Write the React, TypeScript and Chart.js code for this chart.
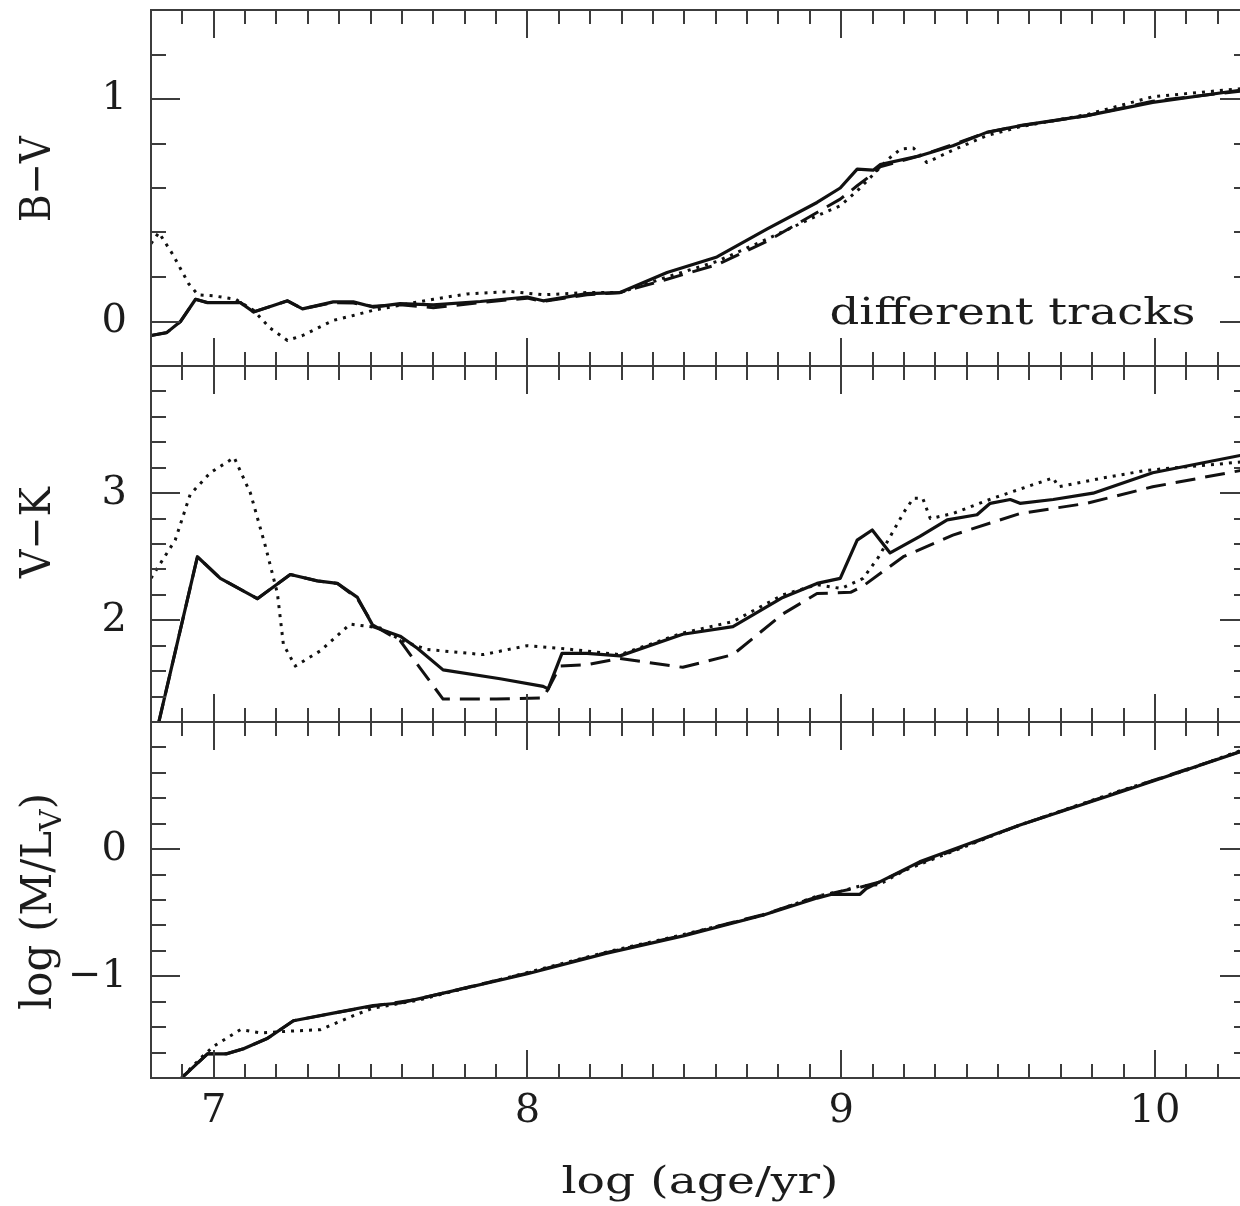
import React, { useEffect, useRef } from 'react';
import { Chart, registerables } from 'chart.js';

Chart.register(...registerables);

// ---------- axes ----------
const X_MIN = 6.8;
const X_MAX = 10.3;
const xTickValues = [7, 8, 9, 10];
const xTickLabels = ['7', '8', '9', '10'];

const BV_MIN = -0.2;
const BV_MAX = 1.4;
const bvTickValues = [0, 1];
const bvTickLabels = ['0', '1'];

const VK_MIN = 1.2;
const VK_MAX = 4.0;
const vkTickValues = [2, 3];
const vkTickLabels = ['2', '3'];

const ML_MIN = -1.8;
const ML_MAX = 1.0;
const mlTickValues = [-1, 0];
const mlTickLabels = ['\u22121', '0'];

const xTitle = 'log (age/yr)';
const bvTitle = 'B\u2212V';
const vkTitle = 'V\u2212K';
const mlTitleMain = 'log (M/L';
const mlTitleSub = 'V';
const mlTitleEnd = ')';
const annotation = 'different tracks';

// ---------- B-V panel ----------
const bvSolidX = [6.80, 6.85, 6.894, 6.942, 6.98, 7.085, 7.127, 7.19, 7.235, 7.283, 7.381, 7.445, 7.508, 7.594, 7.70, 7.85, 7.999, 8.05, 8.19, 8.295, 8.445, 8.604, 8.763, 8.923, 8.997, 9.051, 9.102, 9.124, 9.251, 9.356, 9.464, 9.57, 9.783, 9.993, 10.3];
const bvSolidY = [-0.063, -0.05, 0.0, 0.10, 0.085, 0.085, 0.043, 0.072, 0.093, 0.057, 0.088, 0.088, 0.065, 0.08, 0.075, 0.09, 0.11, 0.093, 0.125, 0.13, 0.22, 0.29, 0.415, 0.535, 0.60, 0.685, 0.68, 0.705, 0.745, 0.79, 0.85, 0.88, 0.925, 0.985, 1.045];

const bvDashX = [6.80, 6.85, 6.894, 6.942, 6.98, 7.085, 7.127, 7.19, 7.235, 7.283, 7.381, 7.445, 7.508, 7.594, 7.70, 7.85, 7.999, 8.05, 8.19, 8.295, 8.445, 8.604, 8.763, 8.923, 8.997, 9.051, 9.102, 9.124, 9.251, 9.356, 9.464, 9.57, 9.783, 9.993, 10.3];
const bvDashY = [-0.063, -0.05, 0.0, 0.10, 0.085, 0.085, 0.043, 0.072, 0.093, 0.057, 0.085, 0.083, 0.068, 0.075, 0.062, 0.085, 0.105, 0.09, 0.12, 0.13, 0.19, 0.255, 0.36, 0.49, 0.55, 0.61, 0.665, 0.695, 0.745, 0.795, 0.85, 0.88, 0.925, 0.99, 1.04];

const bvDotX = [6.80, 6.825, 6.87, 6.92, 6.95, 7.0, 7.07, 7.127, 7.18, 7.235, 7.283, 7.381, 7.445, 7.508, 7.60, 7.70, 7.808, 7.945, 8.05, 8.19, 8.295, 8.445, 8.604, 8.763, 8.923, 8.997, 9.051, 9.102, 9.15, 9.19, 9.23, 9.273, 9.356, 9.464, 9.57, 9.783, 9.993, 10.3];
const bvDotY = [0.35, 0.40, 0.30, 0.17, 0.12, 0.115, 0.10, 0.05, -0.03, -0.085, -0.063, 0.005, 0.027, 0.05, 0.075, 0.10, 0.124, 0.135, 0.12, 0.13, 0.13, 0.20, 0.27, 0.37, 0.475, 0.52, 0.587, 0.66, 0.73, 0.775, 0.78, 0.715, 0.77, 0.835, 0.875, 0.93, 1.01, 1.05];

// ---------- V-K panel ----------
const vkSolidX = [6.824, 6.948, 7.021, 7.139, 7.244, 7.33, 7.394, 7.458, 7.509, 7.594, 7.649, 7.731, 7.913, 8.05, 8.066, 8.11, 8.19, 8.295, 8.495, 8.655, 8.814, 8.923, 8.997, 9.051, 9.099, 9.156, 9.251, 9.338, 9.433, 9.475, 9.539, 9.57, 9.676, 9.803, 9.993, 10.3];
const vkSolidY = [1.19, 2.50, 2.33, 2.17, 2.36, 2.31, 2.29, 2.18, 1.95, 1.875, 1.78, 1.61, 1.54, 1.48, 1.46, 1.74, 1.74, 1.72, 1.89, 1.95, 2.18, 2.29, 2.33, 2.63, 2.71, 2.53, 2.66, 2.79, 2.83, 2.92, 2.95, 2.92, 2.95, 3.0, 3.16, 3.31];

const vkDashX = [6.824, 6.948, 7.021, 7.139, 7.244, 7.33, 7.394, 7.458, 7.509, 7.594, 7.659, 7.731, 7.90, 8.05, 8.066, 8.104, 8.19, 8.295, 8.495, 8.655, 8.814, 8.923, 9.03, 9.07, 9.198, 9.356, 9.57, 9.783, 9.993, 10.3];
const vkDashY = [1.19, 2.50, 2.33, 2.17, 2.36, 2.31, 2.29, 2.17, 1.96, 1.84, 1.62, 1.38, 1.38, 1.39, 1.46, 1.64, 1.65, 1.70, 1.63, 1.73, 2.05, 2.21, 2.22, 2.27, 2.50, 2.67, 2.84, 2.92, 3.05, 3.19];

const vkDotX = [6.80, 6.81, 6.877, 6.925, 6.989, 7.065, 7.117, 7.165, 7.203, 7.222, 7.26, 7.34, 7.435, 7.53, 7.60, 7.681, 7.859, 7.999, 8.104, 8.295, 8.495, 8.655, 8.814, 8.923, 9.0, 9.07, 9.12, 9.2, 9.23, 9.26, 9.284, 9.356, 9.484, 9.676, 9.692, 9.835, 9.975, 10.3];
const vkDotY = [2.33, 2.37, 2.63, 2.99, 3.16, 3.28, 3.0, 2.58, 2.21, 1.81, 1.64, 1.76, 1.97, 1.94, 1.84, 1.77, 1.73, 1.80, 1.78, 1.73, 1.90, 1.99, 2.20, 2.28, 2.25, 2.33, 2.50, 2.85, 2.96, 2.96, 2.80, 2.84, 2.96, 3.12, 3.05, 3.12, 3.18, 3.25];

// ---------- log(M/L_V) panel ----------
const mlSolidX = [6.88, 6.98, 7.04, 7.095, 7.17, 7.254, 7.381, 7.508, 7.594, 7.649, 8.0, 8.25, 8.5, 8.75, 8.923, 8.97, 9.06, 9.08, 9.25, 9.57, 9.89, 10.3];
const mlSolidY = [-1.84, -1.61, -1.61, -1.57, -1.49, -1.35, -1.29, -1.23, -1.21, -1.18, -0.98, -0.82, -0.68, -0.52, -0.385, -0.355, -0.355, -0.31, -0.10, 0.19, 0.45, 0.79];

const mlDashX = [6.88, 6.98, 7.04, 7.095, 7.17, 7.254, 7.381, 7.508, 7.649, 8.0, 8.25, 8.5, 8.75, 8.923, 9.0, 9.06, 9.12, 9.25, 9.57, 9.89, 10.3];
const mlDashY = [-1.84, -1.61, -1.61, -1.57, -1.49, -1.35, -1.29, -1.235, -1.18, -0.975, -0.815, -0.675, -0.515, -0.375, -0.33, -0.30, -0.26, -0.11, 0.19, 0.455, 0.79];

const mlDotX = [6.88, 6.96, 7.0, 7.085, 7.15, 7.254, 7.34, 7.445, 7.508, 7.649, 8.0, 8.25, 8.5, 8.75, 8.923, 9.0, 9.06, 9.12, 9.2, 9.25, 9.57, 9.89, 10.1, 10.3];
const mlDotY = [-1.84, -1.64, -1.55, -1.42, -1.445, -1.43, -1.42, -1.31, -1.25, -1.19, -0.97, -0.81, -0.67, -0.52, -0.37, -0.33, -0.29, -0.28, -0.17, -0.12, 0.19, 0.46, 0.62, 0.80];

// ---------- styling ----------
const SERIF = '"DejaVu Serif", "Liberation Serif", serif';
const LINE = '#111111';
const FRAME = '#3c3c3c';
const TEXT = '#1c1c1c';
const PANEL_IDS = ['yBV', 'yVK', 'yML'];
const X_MAJOR_TICK = 28;
const X_MINOR_TICK = 14;
const Y_MAJOR_TICK = 29;
const Y_MINOR_TICK = 15;

const pts = (xs: number[], ys: number[]) => xs.map((x, i) => ({ x, y: ys[i] }));

const labelFor = (values: number[], labels: string[]) => (v: any) => {
  const n = Number(v);
  const i = values.findIndex((t) => Math.abs(t - n) < 1e-6);
  return i >= 0 ? labels[i] : '';
};

const solidStyle = { borderColor: LINE, borderWidth: 3.2, borderDash: [] as number[] };
const dashStyle = { borderColor: LINE, borderWidth: 3, borderDash: [20, 10] };
const dotStyle = { borderColor: LINE, borderWidth: 3, borderDash: [3, 6] };

function drawText(
  ctx: CanvasRenderingContext2D,
  parts: { t: string; sub?: boolean }[],
  x: number,
  y: number,
  size: number,
  targetLen: number,
  rotated: boolean,
  perp: number
) {
  ctx.save();
  const f = (s: number) => `${s}px ${SERIF}`;
  let total = 0;
  const widths = parts.map((p) => {
    ctx.font = f(p.sub ? size * 0.72 : size);
    const w = ctx.measureText(p.t).width;
    total += w;
    return w;
  });
  const sx = targetLen / total;
  ctx.translate(x, y);
  if (rotated) ctx.rotate(-Math.PI / 2);
  ctx.scale(sx, perp);
  ctx.fillStyle = TEXT;
  ctx.textAlign = 'left';
  ctx.textBaseline = 'alphabetic';
  let cx = -total / 2;
  parts.forEach((p, i) => {
    ctx.font = f(p.sub ? size * 0.72 : size);
    ctx.fillText(p.t, cx, p.sub ? size * 0.24 : 0);
    cx += widths[i];
  });
  ctx.restore();
}

const framePlugin = {
  id: 'panelFrames',
  afterDatasetsDraw(chart: any) {
    const ctx: CanvasRenderingContext2D = chart.ctx;
    const xs = chart.scales.x;
    const left = Math.round(xs.left);
    const right = Math.round(xs.right);
    ctx.save();
    ctx.strokeStyle = FRAME;
    ctx.lineWidth = 2;
    ctx.lineCap = 'butt';
    ctx.beginPath();
    for (const id of PANEL_IDS) {
      const ys = chart.scales[id];
      const top = Math.round(ys.top);
      const bottom = Math.round(ys.bottom);
      ctx.moveTo(left - 1, top);
      ctx.lineTo(right + 1, top);
      ctx.moveTo(left - 1, bottom);
      ctx.lineTo(right + 1, bottom);
      ctx.moveTo(left, top);
      ctx.lineTo(left, bottom);
      ctx.moveTo(right, top);
      ctx.lineTo(right, bottom);
      const i0 = Math.ceil(X_MIN * 10 + 1e-6);
      const i1 = Math.floor(X_MAX * 10 - 1e-6);
      for (let i = i0; i <= i1; i++) {
        const px = Math.round(xs.getPixelForValue(i / 10));
        const len = i % 10 === 0 ? X_MAJOR_TICK : X_MINOR_TICK;
        ctx.moveTo(px, top);
        ctx.lineTo(px, top + len);
        ctx.moveTo(px, bottom);
        ctx.lineTo(px, bottom - len);
      }
      const k0 = Math.ceil(ys.min * 5 + 1e-6);
      const k1 = Math.floor(ys.max * 5 - 1e-6);
      for (let k = k0; k <= k1; k++) {
        const py = Math.round(ys.getPixelForValue(k / 5));
        const len = k % 5 === 0 ? Y_MAJOR_TICK : Y_MINOR_TICK;
        ctx.moveTo(left, py);
        ctx.lineTo(left + len, py);
        ctx.moveTo(right, py);
        ctx.lineTo(right - len, py);
      }
    }
    ctx.stroke();
    ctx.restore();
  },
  afterDraw(chart: any) {
    const ctx: CanvasRenderingContext2D = chart.ctx;
    const xs = chart.scales.x;
    const bv = chart.scales.yBV;
    const vk = chart.scales.yVK;
    const ml = chart.scales.yML;
    // x-axis title
    drawText(ctx, [{ t: xTitle }], (xs.left + xs.right) / 2, xs.bottom - 13, 37, 277, false, 1);
    // annotation in top panel
    drawText(ctx, [{ t: annotation }], xs.getPixelForValue(9.546), bv.getPixelForValue(-0.012), 37, 366, false, 1);
    // y-axis titles (rotated)
    drawText(ctx, [{ t: bvTitle }], 50, bv.getPixelForValue(0.64), 37, 86, true, 1.15);
    drawText(ctx, [{ t: vkTitle }], 50, vk.getPixelForValue(2.69), 37, 91, true, 1.15);
    drawText(
      ctx,
      [{ t: mlTitleMain }, { t: mlTitleSub, sub: true }, { t: mlTitleEnd }],
      51,
      ml.getPixelForValue(-0.412),
      37,
      217,
      true,
      1.15
    );
  },
};

const yScale = (
  min: number,
  max: number,
  weight: number,
  values: number[],
  labels: string[]
) => ({
  type: 'linear' as const,
  position: 'left' as const,
  stack: 'panels',
  stackWeight: 1,
  weight,
  min,
  max,
  grid: { display: false, drawTicks: false },
  border: { display: false },
  ticks: {
    stepSize: 0.2,
    autoSkip: false,
    padding: 24,
    color: TEXT,
    font: { family: SERIF, size: 40 },
    callback: labelFor(values, labels),
  },
  afterFit(s: any) {
    s.width = 151;
    s.paddingTop = 0;
    s.paddingBottom = 0;
  },
});

export default function App() {
  const ref = useRef<HTMLCanvasElement | null>(null);

  useEffect(() => {
    const canvas = ref.current;
    if (!canvas) return;
    const chart = new Chart(canvas, {
      type: 'line',
      data: {
        datasets: [
          { label: 'B-V solid', data: pts(bvSolidX, bvSolidY), yAxisID: 'yBV', ...solidStyle },
          { label: 'V-K solid', data: pts(vkSolidX, vkSolidY), yAxisID: 'yVK', ...solidStyle },
          { label: 'M/L solid', data: pts(mlSolidX, mlSolidY), yAxisID: 'yML', ...solidStyle },
          { label: 'B-V dashed', data: pts(bvDashX, bvDashY), yAxisID: 'yBV', ...dashStyle },
          { label: 'V-K dashed', data: pts(vkDashX, vkDashY), yAxisID: 'yVK', ...dashStyle },
          { label: 'M/L dashed', data: pts(mlDashX, mlDashY), yAxisID: 'yML', ...dashStyle },
          { label: 'B-V dotted', data: pts(bvDotX, bvDotY), yAxisID: 'yBV', ...dotStyle },
          { label: 'V-K dotted', data: pts(vkDotX, vkDotY), yAxisID: 'yVK', ...dotStyle },
          { label: 'M/L dotted', data: pts(mlDotX, mlDotY), yAxisID: 'yML', ...dotStyle },
        ].map((d) => ({
          ...d,
          pointRadius: 0,
          tension: 0,
          fill: false,
          clip: 0,
          borderCapStyle: 'butt' as const,
          borderJoinStyle: 'round' as const,
        })),
      },
      options: {
        responsive: false,
        animation: false,
        devicePixelRatio: 1,
        events: [],
        layout: { padding: { top: 10, right: 1, bottom: 0, left: 0 } },
        plugins: { legend: { display: false }, tooltip: { enabled: false }, title: { display: false } },
        scales: {
          x: {
            type: 'linear',
            position: 'bottom',
            min: X_MIN,
            max: X_MAX,
            grid: { display: false, drawTicks: false },
            border: { display: false },
            ticks: {
              stepSize: 0.1,
              autoSkip: false,
              maxRotation: 0,
              minRotation: 0,
              padding: 10,
              color: TEXT,
              font: { family: SERIF, size: 40 },
              callback: labelFor(xTickValues, xTickLabels),
            },
            afterFit(s: any) {
              s.height = 128;
              s.paddingLeft = 0;
              s.paddingRight = 0;
            },
          },
          yBV: yScale(BV_MIN, BV_MAX, 3, bvTickValues, bvTickLabels),
          yVK: yScale(VK_MIN, VK_MAX, 2, vkTickValues, vkTickLabels),
          yML: yScale(ML_MIN, ML_MAX, 1, mlTickValues, mlTickLabels),
        },
      } as any,
      plugins: [framePlugin],
    });
    return () => chart.destroy();
  }, []);

  return (
    <div
      style={{
        position: 'absolute',
        left: 0,
        top: 0,
        width: 1240,
        height: 1206,
        overflow: 'hidden',
        background: '#ffffff',
      }}
    >
      <canvas ref={ref} width={1250} height={1206} style={{ display: 'block', width: 1250, height: 1206 }} />
    </div>
  );
}
